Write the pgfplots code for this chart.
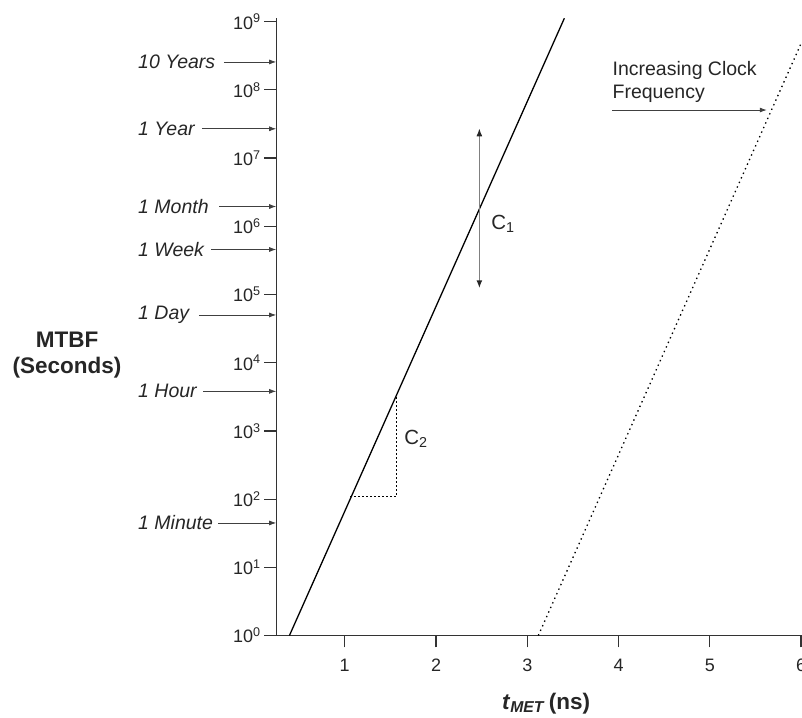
\documentclass[border=0pt]{standalone}
\usepackage{fontspec}
\setmainfont{Liberation Sans}
\usepackage{pgfplots}
\pgfplotsset{compat=1.18}
\usetikzlibrary{arrows.meta}

\tikzset{
  tarrow/.style={black!75, line width=0.8pt, -{Latex[length=7pt,width=5pt]}},
  tlabel/.style={anchor=west, inner sep=0pt, text=black!85,
    font=\fontsize{19.5}{22}\selectfont\itshape},
}

\begin{document}
\begin{tikzpicture}
\useasboundingbox (0,0) rectangle (802pt,717pt);
\begin{axis}[
  at={(276.2pt,81.5pt)}, anchor=south west,
  scale only axis, width=525.8pt, height=617.2pt,
  xmin=0.249, xmax=6.01,
  ymode=log, log basis y=10, ymin=1, ymax=1.122e9,
  axis x line=bottom, axis y line=left,
  axis line style={-, line width=1.2pt, black!80},
  tick align=outside, major tick length=12pt,
  tick style={line width=1.2pt, black!80},
  yminorticks=false,
  xtick={1,2,3,4,5,6},
  ytick={1,10,100,1000,1e4,1e5,1e6,1e7,1e8,1e9},
  yticklabels={10\textsuperscript{0},10\textsuperscript{1},10\textsuperscript{2},10\textsuperscript{3},10\textsuperscript{4},10\textsuperscript{5},10\textsuperscript{6},10\textsuperscript{7},10\textsuperscript{8},10\textsuperscript{9}},
  ticklabel style={font=\fontsize{18}{20}\selectfont, text=black!85},
  xticklabel style={yshift=-8pt},
  /pgf/number format/assume math mode=true,
  clip=false,
]
% MTBF curves
\addplot[black, line width=1.3pt] coordinates {(0.394,1) (3.406,1.122e9)};
\addplot[black, line width=1.3pt, dash pattern=on 1.4pt off 3.6pt] coordinates {(3.121,1) (6.008,5.09e8)};
% slope triangle C2
\addplot[black, line width=0.9pt, dash pattern=on 2pt off 2pt] coordinates {(1.058,110.9) (1.570,110.9) (1.570,3357)};

% C1 range arrow
\draw[gray, line width=1.5pt, {Latex[length=8pt,width=6pt,black!85]}-{Latex[length=8pt,width=6pt,black!85]}]
  (axis cs:2.475,2.735e7) -- (axis cs:2.475,1.233e5);
\node[anchor=west, inner sep=0pt, text=black!85, font=\fontsize{20.5}{22}\selectfont]
  at (axis cs:2.603,1.08e6) {C\textsubscript{1}};
\node[anchor=west, inner sep=0pt, text=black!85, font=\fontsize{20.5}{22}\selectfont]
  at (axis cs:1.65,760) {C\textsubscript{2}};

% time marks
\draw[tarrow] (axis cs:-0.323,2.57e8) -- (axis cs:0.249,2.57e8);
\draw[tarrow] (axis cs:-0.564,2.69e7) -- (axis cs:0.249,2.69e7);
\draw[tarrow] (axis cs:-0.377,1.95e6) -- (axis cs:0.249,1.95e6);
\draw[tarrow] (axis cs:-0.465,4.57e5) -- (axis cs:0.249,4.57e5);
\draw[tarrow] (axis cs:-0.597,5.01e4) -- (axis cs:0.249,5.01e4);
\draw[tarrow] (axis cs:-0.553,3802) -- (axis cs:0.249,3802);
\draw[tarrow] (axis cs:-0.388,44.7) -- (axis cs:0.249,44.7);
\node[tlabel] at (axis cs:-1.265,2.57e8) {10 Years};
\node[tlabel] at (axis cs:-1.265,2.69e7) {1 Year};
\node[tlabel] at (axis cs:-1.265,1.95e6) {1 Month};
\node[tlabel] at (axis cs:-1.265,4.57e5) {1 Week};
\node[tlabel] at (axis cs:-1.265,5.01e4) {1 Day};
\node[tlabel] at (axis cs:-1.265,3802) {1 Hour};
\node[tlabel] at (axis cs:-1.265,44.7) {1 Minute};

% clock frequency note
\node[anchor=base west, inner sep=0pt, text=black!85, font=\fontsize{19.5}{22}\selectfont]
  at (axis cs:3.933,1.652e8) {Increasing Clock};
\node[anchor=base west, inner sep=0pt, text=black!85, font=\fontsize{19.5}{22}\selectfont]
  at (axis cs:3.933,7.6e7) {Frequency};
\draw[tarrow] (axis cs:3.93,5.07e7) -- (axis cs:5.624,5.07e7);

% axis titles
\node[align=center, text=black!85, font=\fontsize{22.5}{26}\selectfont\bfseries]
  at (axis cs:-2.043,12970) {MTBF\\(Seconds)};
\node[anchor=base, text=black!85, font=\fontsize{22.5}{26}\selectfont\bfseries]
  at (axis cs:3.206,0.0836) {\textit{t}\textsubscript{\textit{MET}}\,(ns)};
\end{axis}
\end{tikzpicture}
\end{document}
